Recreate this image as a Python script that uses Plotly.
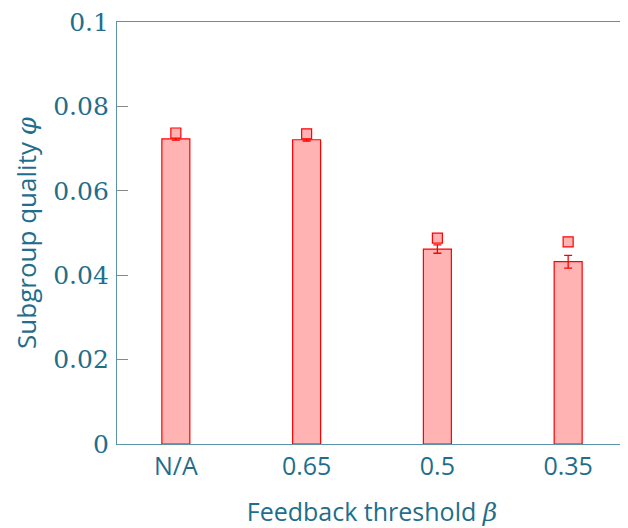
import plotly.graph_objects as go

categories = ["N/A", "0.65", "0.5", "0.35"]
bar_values = [0.0723, 0.0721, 0.0462, 0.0432]
bar_errors = [0.0003, 0.0003, 0.0010, 0.0015]
marker_values = [0.0737, 0.0735, 0.0488, 0.0479]
y_ticks = [0, 0.02, 0.04, 0.06, 0.08, 0.1]
y_tick_labels = ["0", "0.02", "0.04", "0.06", "0.08", "0.1"]

TEAL = "#1f6e8c"
AXIS = "#5a93a6"
RED = "#ff0000"
PINK = "#ffb3b3"

fig = go.Figure()
fig.add_trace(go.Bar(
    x=categories, y=bar_values, width=0.214,
    marker=dict(color=PINK, line=dict(color=RED, width=1.2)),
    error_y=dict(type="data", array=bar_errors, color=RED, thickness=1.3, width=4),
    showlegend=False,
))
fig.add_trace(go.Scatter(
    x=categories, y=marker_values, mode="markers",
    marker=dict(symbol="square", size=10, color=PINK, line=dict(color=RED, width=1.2)),
    showlegend=False,
))

fig.update_layout(
    width=620, height=520,
    margin=dict(l=109, r=0, t=10, b=84),
    plot_bgcolor="white", paper_bgcolor="white",
    xaxis=dict(
        range=[-0.45, 3.45], showgrid=False, zeroline=False,
        showline=True, linecolor=AXIS, linewidth=1.2, mirror=True,
        ticks="", tickfont=dict(family="Open Sans", size=25, color=TEAL),
        title=dict(text='Feedback threshold <span style="font-family:DejaVu Serif"><i>β</i></span>',
                   font=dict(family="Open Sans", size=25, color=TEAL), standoff=24),
    ),
    yaxis=dict(
        range=[0, 0.1], tickvals=y_ticks, ticktext=y_tick_labels,
        showgrid=False, zeroline=False,
        showline=True, linecolor=AXIS, linewidth=1.2, mirror=True,
        ticks="inside", ticklen=11, tickcolor="#888888", tickwidth=1,
        tickfont=dict(family="DejaVu Serif", size=25, color=TEAL),
        ticklabelstandoff=2, ticklabeloverflow="allow",
        title=dict(text='Subgroup quality <span style="font-family:DejaVu Serif"><i>φ</i></span>',
                   font=dict(family="Open Sans", size=26, color=TEAL), standoff=16),
    ),
)

fig.write_html("out.html")
